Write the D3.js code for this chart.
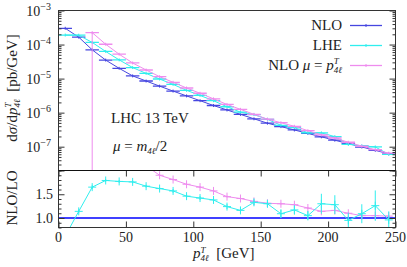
<!DOCTYPE html>
<html lang="en">
<head>
  <meta charset="UTF-8">
  <title>NLO vs LHE pT(4l)</title>
  <script src="https://cdn.jsdelivr.net/npm/d3@7"></script>
  <style>
    body { margin: 0; background: #ffffff; }
    svg { display: block; }
  </style>
</head>
<body>
<svg id="chart" width="407" height="267"></svg>
<script>
  // bin centres, 10 GeV bins
  const binCenters = [5, 15, 25, 35, 45, 55, 65, 75, 85, 95, 105, 115, 125, 135, 145, 155, 165, 175, 185, 195, 205, 215, 225, 235, 245];
  const nlo = [3.0e-4, 1.65e-4, 7.0e-5, 3.5e-5, 2.0e-5, 1.2e-5, 8.5e-6, 6.0e-6, 4.3e-6, 3.1e-6, 2.25e-6, 1.62e-6, 1.2e-6,
    8.9e-7, 6.6e-7, 4.9e-7, 3.9e-7, 3.1e-7, 2.45e-7, 1.95e-7, 1.55e-7, 1.23e-7, 9.8e-8, 7.8e-8, 6.2e-8];
  const lhe = [1.9e-4, 1.88e-4, 1.155e-4, 6.27e-5, 3.54e-5, 2.11e-5, 1.42e-5, 9.72e-6, 6.75e-6, 4.53e-6, 3.2e-6, 2.24e-6, 1.49e-6,
    1.03e-6, 8.78e-7, 6.37e-7, 4.25e-7, 3.63e-7, 2.57e-7, 2.54e-7, 1.98e-7, 1.17e-7, 1.07e-7, 9.83e-8, 5.95e-8];
  const nloPt = [null, null, 2.24e-4, 1.02e-4, 5.2e-5, 2.88e-5, 1.79e-5, 1.14e-5, 7.78e-6, 5.3e-6, 3.71e-6, 2.54e-6, 1.74e-6,
    1.25e-6, 8.91e-7, 6.42e-7, 5.07e-7, 3.97e-7, 2.96e-7, 2.22e-7, 1.8e-7, 1.35e-7, 1.03e-7, 8.19e-8, 6.45e-8];
  // the 20-30 GeV bin of NLO mu=pT has an error bar running off the bottom
  const nloPtSpikeBin = 25;

  // lower panel ratios
  const ratioLhe = [0.62, 1.14, 1.65, 1.79, 1.77, 1.76, 1.67, 1.62, 1.57, 1.46, 1.42, 1.38, 1.24, 1.16, 1.33, 1.30,
    1.09, 1.17, 1.05, 1.30, 1.28, 0.95, 1.09, 1.26, 0.96];
  const ratioLheErr = [0.03, 0.04, 0.04, 0.03, 0.03, 0.03, 0.03, 0.03, 0.04, 0.04, 0.04, 0.05, 0.05, 0.06, 0.06, 0.07,
    0.09, 0.10, 0.10, 0.21, 0.20, 0.16, 0.20, 0.32, 0.18];
  const ratioPt = [null, null, 3.2, 2.9, 2.6, 2.4, 2.1, 1.90, 1.81, 1.71, 1.65, 1.57, 1.45, 1.41, 1.35, 1.31,
    1.30, 1.28, 1.21, 1.14, 1.16, 1.10, 1.05, 1.05, 1.04];
  const ratioPtErr = [null, null, 0.3, 0.1, 0.05, 0.03, 0.03, 0.02, 0.02, 0.02, 0.02, 0.02, 0.02, 0.02, 0.02, 0.02,
    0.02, 0.02, 0.02, 0.02, 0.02, 0.02, 0.02, 0.02, 0.02];
  const ratioRef = 1.0;

  const xTicks = [0, 50, 100, 150, 200, 250];
  const decadeTicks = [1e-7, 1e-6, 1e-5, 1e-4, 1e-3];
  const decadeExp = [-7, -6, -5, -4, -3];
  const ratioTicks = [1.0, 1.5];
  const ratioMajor = [1.0, 1.5, 2.0];

  const colNlo = "#4646e0", colLhe = "#30eeee", colPt = "#ee8cee";

  const svg = d3.select("#chart")
    .style("font-family", "'Liberation Serif', 'Times New Roman', Times, 'DejaVu Serif', serif");
  const pLeft = 58.5, pRight = 395.5, pTop = 10.5, pMid = 170.5, pBottom = 227.5;

  const x = d3.scaleLinear().domain([0, 250]).range([pLeft, pRight]);
  const y = d3.scaleLog().domain([2e-8, 1e-3]).range([pMid, pTop]);
  const yr = d3.scaleLinear().domain([0.8, 2.0]).range([pBottom, pMid]);
  const halfBin = 5;

  const defs = svg.append("defs");
  defs.append("clipPath").attr("id", "clipUp").append("rect")
    .attr("x", pLeft).attr("y", pTop).attr("width", pRight - pLeft).attr("height", pMid - pTop);
  defs.append("clipPath").attr("id", "clipLo").append("rect")
    .attr("x", pLeft).attr("y", pMid).attr("width", pRight - pLeft).attr("height", pBottom - pMid);

  // ---------- upper panel ----------
  const up = svg.append("g").attr("clip-path", "url(#clipUp)");

  function drawUpper(vals, color) {
    const pts = binCenters.map((c, i) => ({ c, v: vals[i] })).filter(d => d.v != null);
    up.append("path")
      .attr("d", d3.line().x(d => x(d.c)).y(d => y(d.v))(pts))
      .attr("fill", "none").attr("stroke", color).attr("stroke-width", 1);
    up.selectAll(null).data(pts).enter().append("line")
      .attr("x1", d => x(d.c - halfBin)).attr("x2", d => x(d.c + halfBin))
      .attr("y1", d => y(d.v)).attr("y2", d => y(d.v))
      .attr("stroke", color).attr("stroke-width", 1.3);
    up.selectAll(null).data(pts).enter().append("line")
      .attr("x1", d => x(d.c)).attr("x2", d => x(d.c))
      .attr("y1", d => y(d.v) - 1.5).attr("y2", d => y(d.v) + 1.5)
      .attr("stroke", color).attr("stroke-width", 1);
  }
  drawUpper(nlo, colNlo);
  drawUpper(lhe, colLhe);
  drawUpper(nloPt, colPt);
  const spikeIdx = binCenters.indexOf(nloPtSpikeBin);
  up.append("line")
    .attr("x1", x(nloPtSpikeBin)).attr("x2", x(nloPtSpikeBin))
    .attr("y1", y(nloPt[spikeIdx])).attr("y2", pMid)
    .attr("stroke", colPt).attr("stroke-width", 1);

  // ---------- lower panel ----------
  const lo = svg.append("g").attr("clip-path", "url(#clipLo)");
  lo.append("line")
    .attr("x1", pLeft).attr("x2", pRight).attr("y1", yr(ratioRef)).attr("y2", yr(ratioRef))
    .attr("stroke", "#0000ff").attr("stroke-width", 1.5);

  function drawRatio(vals, errs, color) {
    const pts = binCenters.map((c, i) => ({ c, v: vals[i], e: errs[i] })).filter(d => d.v != null);
    lo.append("path")
      .attr("d", d3.line().x(d => x(d.c)).y(d => yr(d.v))(pts))
      .attr("fill", "none").attr("stroke", color).attr("stroke-width", 1);
    lo.selectAll(null).data(pts).enter().append("line")
      .attr("x1", d => x(d.c)).attr("x2", d => x(d.c))
      .attr("y1", d => yr(d.v - d.e)).attr("y2", d => yr(d.v + d.e))
      .attr("stroke", color).attr("stroke-width", 1);
    lo.selectAll(null).data(pts).enter().append("line")
      .attr("x1", d => x(d.c) - 4).attr("x2", d => x(d.c) + 4)
      .attr("y1", d => yr(d.v)).attr("y2", d => yr(d.v))
      .attr("stroke", color).attr("stroke-width", 1);
    lo.selectAll(null).data(pts).enter().append("line")
      .attr("x1", d => x(d.c)).attr("x2", d => x(d.c))
      .attr("y1", d => yr(d.v) - 4).attr("y2", d => yr(d.v) + 4)
      .attr("stroke", color).attr("stroke-width", 1);
  }
  drawRatio(ratioPt, ratioPtErr, colPt);
  drawRatio(ratioLhe, ratioLheErr, colLhe);

  // ---------- frames and ticks ----------
  const axisCol = "#333";
  function tickAxis(axis, transform, len) {
    const g = svg.append("g").attr("transform", transform)
      .call(axis.tickSize(len).tickFormat(""));
    g.select(".domain").remove();
    g.selectAll("line").attr("stroke", axisCol).attr("stroke-width", 1);
    return g;
  }
  const minorLog = y.ticks().filter(v => !decadeTicks.some(d => Math.abs(d - v) / d < 1e-6));
  tickAxis(d3.axisLeft(y).tickValues(decadeTicks), `translate(${pLeft},0)`, -6);
  tickAxis(d3.axisLeft(y).tickValues(minorLog), `translate(${pLeft},0)`, -3);
  tickAxis(d3.axisRight(y).tickValues(decadeTicks), `translate(${pRight},0)`, -6);
  tickAxis(d3.axisRight(y).tickValues(minorLog), `translate(${pRight},0)`, -3);

  const ratioMinor = d3.range(0.8, 2.001, 0.1).map(v => +v.toFixed(2)).filter(v => !ratioMajor.includes(v));
  tickAxis(d3.axisLeft(yr).tickValues(ratioMajor), `translate(${pLeft},0)`, -6);
  tickAxis(d3.axisLeft(yr).tickValues(ratioMinor), `translate(${pLeft},0)`, -3);
  tickAxis(d3.axisRight(yr).tickValues(ratioMajor), `translate(${pRight},0)`, -6);
  tickAxis(d3.axisRight(yr).tickValues(ratioMinor), `translate(${pRight},0)`, -3);

  tickAxis(d3.axisBottom(x).tickValues(xTicks), `translate(0,${pBottom})`, -6);
  tickAxis(d3.axisTop(x).tickValues(xTicks), `translate(0,${pMid})`, -6);

  svg.append("rect").attr("x", pLeft).attr("y", pTop).attr("width", pRight - pLeft).attr("height", pBottom - pTop)
    .attr("fill", "none").attr("stroke", axisCol).attr("stroke-width", 1);
  svg.append("line").attr("x1", pLeft).attr("x2", pRight).attr("y1", pMid).attr("y2", pMid)
    .attr("stroke", "#111").attr("stroke-width", 1);

  // ---------- tick labels ----------
  const fs = 14, fsText = 15, txtCol = "#222";
  const label = (sel, size) => sel.style("font-size", (size || fs) + "px").attr("fill", txtCol);
  decadeTicks.forEach((v, i) => {
    const t = label(svg.append("text").attr("x", 51).attr("y", y(v) + 5).attr("text-anchor", "end"));
    t.append("tspan").text("10");
    t.append("tspan").attr("dy", -6).style("font-size", "10px").text("\u2212" + (-decadeExp[i]));
  });
  label(svg.selectAll(null).data(ratioTicks).enter().append("text")
    .attr("x", 53).attr("y", d => yr(d) + 5).attr("text-anchor", "end"))
    .text(d => d.toFixed(1));
  label(svg.selectAll(null).data(xTicks).enter().append("text")
    .attr("x", d => x(d)).attr("y", 242).attr("text-anchor", "middle"))
    .text(d => d);

  // x label
  const xl = label(svg.append("text").attr("x", 193).attr("y", 258), fsText);
  xl.append("tspan").style("font-style", "italic").text("p");
  xl.append("tspan").attr("dy", -5).style("font-size", "9px").style("font-style", "italic").text("T");
  xl.append("tspan").attr("dx", -5).attr("dy", 8).style("font-size", "9px").style("font-style", "italic").text("4\u2113");
  xl.append("tspan").attr("dy", -3).text("\u2002[GeV]");

  // y labels
  const yl = label(svg.append("text").attr("transform", "translate(17,88) rotate(-90)")
    .attr("text-anchor", "middle"), fsText);
  yl.append("tspan").text("d");
  yl.append("tspan").style("font-style", "italic").text("\u03c3");
  yl.append("tspan").text("/d");
  yl.append("tspan").style("font-style", "italic").text("p");
  yl.append("tspan").attr("dy", -6).style("font-size", "9px").style("font-style", "italic").text("T");
  yl.append("tspan").attr("dx", -5).attr("dy", 9).style("font-size", "9px").style("font-style", "italic").text("4\u2113");
  yl.append("tspan").attr("dy", -3).text("\u2002[pb/GeV]");

  label(svg.append("text").attr("transform", "translate(17,198) rotate(-90)")
    .attr("text-anchor", "middle"), fsText).text("NLO/LO");

  // annotations
  label(svg.append("text").attr("x", 111).attr("y", 123), fsText).text("LHC 13 TeV");
  const mu = label(svg.append("text").attr("x", 113).attr("y", 151), fsText);
  mu.append("tspan").style("font-style", "italic").text("\u03bc");
  mu.append("tspan").text(" = ");
  mu.append("tspan").style("font-style", "italic").text("m");
  mu.append("tspan").attr("dy", 3).style("font-size", "9px").style("font-style", "italic").text("4\u2113");
  mu.append("tspan").attr("dy", -3).text("/2");

  // legend
  const legend = [
    { label: "NLO", color: colNlo, y: 25.5 },
    { label: "LHE", color: colLhe, y: 45.5 },
    { label: "pt", color: colPt, y: 65.5 }
  ];
  legend.forEach(d => {
    svg.append("line").attr("x1", 350).attr("x2", 382).attr("y1", d.y).attr("y2", d.y)
      .attr("stroke", d.color).attr("stroke-width", 1.3);
    svg.append("line").attr("x1", 366).attr("x2", 366).attr("y1", d.y - 1.5).attr("y2", d.y + 1.5)
      .attr("stroke", d.color).attr("stroke-width", 1);
    const t = label(svg.append("text").attr("x", 342).attr("y", d.y + 4.5).attr("text-anchor", "end"), fsText);
    if (d.label === "pt") {
      t.append("tspan").text("NLO ");
      t.append("tspan").style("font-style", "italic").text("\u03bc");
      t.append("tspan").text(" = ");
      t.append("tspan").style("font-style", "italic").text("p");
      t.append("tspan").attr("dy", -6).style("font-size", "9px").style("font-style", "italic").text("T");
      t.append("tspan").attr("dx", -5).attr("dy", 9).style("font-size", "9px").style("font-style", "italic").text("4\u2113");
    } else {
      t.text(d.label);
    }
  });
</script>
</body>
</html>
